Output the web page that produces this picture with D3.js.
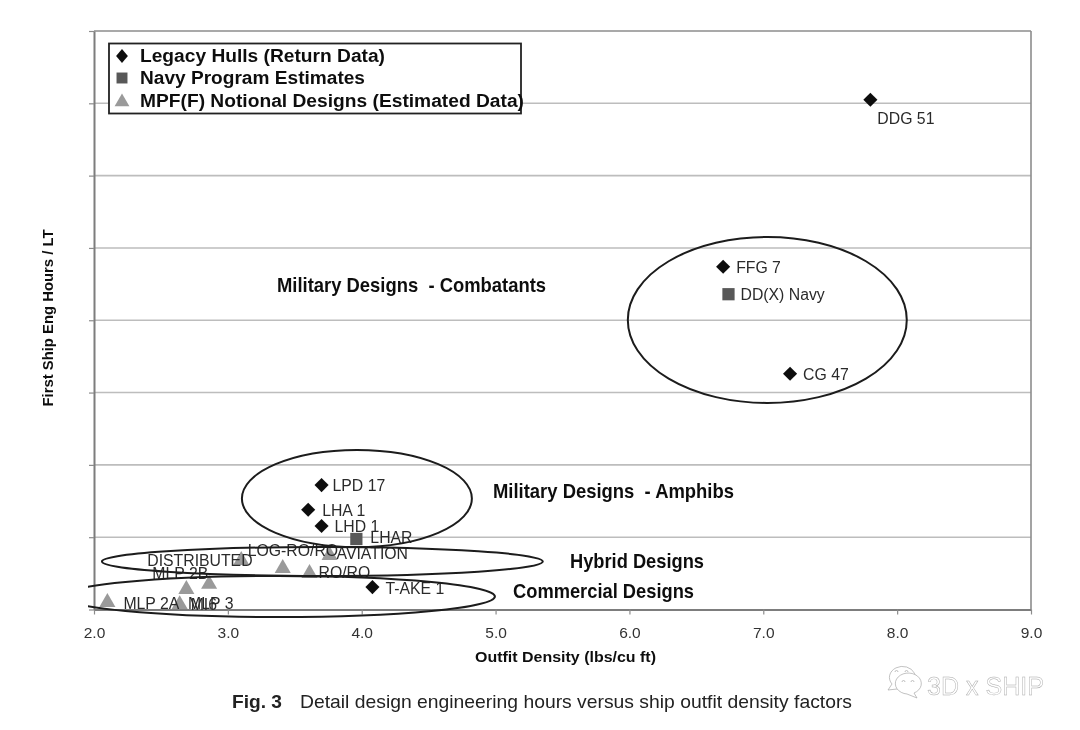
<!DOCTYPE html>
<meta charset="utf-8">
<style>
  html, body { margin: 0; background: #fff; }
  svg { display: block; }
  text { font-family: "Liberation Sans", Arial, sans-serif; }
</style>
<svg width="1080" height="730"></svg>

<script src="https://d3js.org/d3.v7.min.js"></script>
<script>
// values (y axis has no numbers, so y is in grid intervals)
var legacyNames = ["DDG 51", "FFG 7", "CG 47", "LPD 17", "LHA 1", "LHD 1", "T-AKE 1"]
var legacyX = [7.8, 6.7, 7.2, 3.7, 3.6, 3.7, 4.08]
var legacyY = [7.05, 4.74, 3.26, 1.72, 1.38, 1.155, 0.31]

var navyNames = ["DD(X) Navy", "LHAR"]
var navyX = [6.74, 3.96]
var navyY = [4.36, 0.975]

var mpfNames = ["AVIATION", "LOG-RO/RO", "DISTRIBUTED", "RO/RO", "MLP 2B", "MLP 3", "MLP 2A", "MI6"]
var mpfX = [3.76, 3.41, 3.1, 3.61, 2.69, 2.86, 2.1, 2.64]
var mpfY = [0.75, 0.57, 0.68, 0.5, 0.28, 0.35, 0.1, 0.07]

var groupNames = ["Military Designs  - Combatants", "Military Designs  - Amphibs", "Hybrid Designs", "Commercial Designs"]
var ellipseX = [7.03, 3.964, 3.706, 3.378]
var ellipseY = [4.004, 1.535, 0.664, 0.18]
var ellipseRx = [1.042, 0.859, 1.647, 1.617]
var ellipseRy = [1.148, 0.671, 0.2, 0.284]

var legendNames = ["Legacy Hulls (Return Data)", "Navy Program Estimates", "MPF(F) Notional Designs (Estimated Data)"]
var xTicks = [2, 3, 4, 5, 6, 7, 8, 9]
var yTicks = [0, 1, 2, 3, 4, 5, 6, 7, 8]

// layout
var left = 94, right = 1031, top_ = 31, bottom = 609.5

var x = d3.scaleLinear().domain([2, 9]).range([left, right])
var y = d3.scaleLinear().domain([0, 8]).range([bottom, top_])

var svg = d3.select('svg')

var defs = svg.append('defs')
defs.append('filter').attr('id', 'soft')
  .attr('filterUnits', 'userSpaceOnUse')
  .attr('x', 0).attr('y', 0)
  .attr('width', 1080).attr('height', 730)
  .append('feGaussianBlur').attr('stdDeviation', 0.5)
defs.append('clipPath').attr('id', 'ellipseClip')
  .append('rect').attr('x', left - 6).attr('y', 0).attr('width', 1080).attr('height', 730)

var root = svg.append('g').attr('filter', 'url(#soft)')

root.append('rect').attr('width', 1080).attr('height', 730).attr('fill', '#fff')

// grid
root.append('g').selectAll('line')
  .data(yTicks.slice(1))
  .enter().append('line')
    .attr('x1', left).attr('x2', right)
    .attr('y1', function (d) { return y(d) }).attr('y2', function (d) { return y(d) })
    .attr('stroke', function (d) { return d === 8 ? '#8c8c8c' : '#bdbdbd' })
    .attr('stroke-width', 1.6)

// right edge of the frame
root.append('line')
  .attr('x1', right).attr('x2', right).attr('y1', top_).attr('y2', bottom)
  .attr('stroke', '#8c8c8c').attr('stroke-width', 1.6)

var xAxis = root.append('g')
  .attr('transform', 'translate(0,' + bottom + ')')
  .call(d3.axisBottom(x).tickValues(xTicks).tickFormat(d3.format('.1f')).tickSize(5).tickPadding(12).tickSizeOuter(0))
xAxis.selectAll('text').attr('font-size', 15.5).attr('font-family', '"Liberation Sans"').attr('fill', '#333')
xAxis.selectAll('line').attr('stroke', '#8c8c8c').attr('stroke-width', 1.2)
xAxis.select('.domain').attr('stroke', '#7d7d7d').attr('stroke-width', 2)

var yAxis = root.append('g')
  .attr('transform', 'translate(' + left + ',0)')
  .call(d3.axisLeft(y).tickValues(yTicks).tickFormat('').tickSize(5).tickSizeOuter(0))
yAxis.selectAll('line').attr('stroke', '#8c8c8c').attr('stroke-width', 1.2)
yAxis.select('.domain').attr('stroke', '#7d7d7d').attr('stroke-width', 2)

// the three point series
function series(names, xs, ys) {
  return names.map(function (n, i) { return { name: n, x: xs[i], y: ys[i] } })
}
var legacy = series(legacyNames, legacyX, legacyY)
var navy = series(navyNames, navyX, navyY)
var mpf = series(mpfNames, mpfX, mpfY)

var diamond = d3.symbol().type(d3.symbolSquare).size(100)
var square = d3.symbol().type(d3.symbolSquare).size(150)
var triangle = d3.symbol().type(d3.symbolTriangle).size(112)

root.append('g').selectAll('path').data(mpf)
  .enter().append('path')
    .attr('d', triangle)
    .attr('fill', '#9a9a9a')
    .attr('transform', function (d) { return 'translate(' + x(d.x) + ',' + y(d.y) + ')' })

root.append('g').selectAll('path').data(navy)
  .enter().append('path')
    .attr('d', square)
    .attr('fill', '#595959')
    .attr('transform', function (d) { return 'translate(' + x(d.x) + ',' + y(d.y) + ')' })

root.append('g').selectAll('path').data(legacy)
  .enter().append('path')
    .attr('d', diamond)
    .attr('fill', '#111')
    .attr('transform', function (d) { return 'translate(' + x(d.x) + ',' + y(d.y) + ') rotate(45)' })

// where each label sits relative to its marker
var labelOffset = {
  "DDG 51": [7, 24], "FFG 7": [13, 6], "CG 47": [13, 6],
  "LPD 17": [11, 6], "LHA 1": [14, 6], "LHD 1": [13, 6], "T-AKE 1": [13, 7],
  "DD(X) Navy": [12, 6], "LHAR": [14, 4],
  "AVIATION": [7, 4], "LOG-RO/RO": [-35, -12], "DISTRIBUTED": [-94, 6], "RO/RO": [9, 5],
  "MLP 2B": [-34, -10], "MLP 3": [-21, 25], "MLP 2A": [16, 7], "MI6": [11, 6]
}

root.append('g').selectAll('text').data(legacy.concat(navy, mpf))
  .enter().append('text')
    .text(function (d) { return d.name })
    .attr('x', function (d) { return x(d.x) + labelOffset[d.name][0] })
    .attr('y', function (d) { return y(d.y) + labelOffset[d.name][1] })
    .attr('font-size', 15.8)
    .attr('fill', '#2b2b2b')

// ellipses round the groups
root.append('g').attr('clip-path', 'url(#ellipseClip)')
  .selectAll('ellipse').data(groupNames)
  .enter().append('ellipse')
    .attr('cx', function (d, i) { return x(ellipseX[i]) })
    .attr('cy', function (d, i) { return y(ellipseY[i]) })
    .attr('rx', function (d, i) { return x(2 + ellipseRx[i]) - x(2) })
    .attr('ry', function (d, i) { return y(0) - y(ellipseRy[i]) })
    .attr('fill', 'none')
    .attr('stroke', '#1c1c1c')
    .attr('stroke-width', 2)

// group headings, squeezed to the narrow bold of the original
var headX = [277, 493, 570, 513]
var headY = [292, 498, 568, 598]
var headW = [269, 241, 134, 181]
root.append('g').selectAll('text').data(groupNames)
  .enter().append('text')
    .text(function (d) { return d })
    .attr('x', function (d, i) { return headX[i] })
    .attr('y', function (d, i) { return headY[i] })
    .attr('textLength', function (d, i) { return headW[i] })
    .attr('lengthAdjust', 'spacingAndGlyphs')
    .attr('font-size', 21)
    .attr('font-weight', 'bold')
    .attr('fill', '#111')
    .style('white-space', 'pre')

// legend
var legend = root.append('g')
legend.append('rect')
  .attr('x', 109).attr('y', 43.5).attr('width', 412).attr('height', 70)
  .attr('fill', '#fff').attr('stroke', '#222').attr('stroke-width', 1.8)
var legendY = [56, 78, 101]
var legendW = [245, 225, 384]
legend.selectAll('text').data(legendNames)
  .enter().append('text')
    .text(function (d) { return d })
    .attr('x', 140)
    .attr('y', function (d, i) { return legendY[i] + 6 })
    .attr('textLength', function (d, i) { return legendW[i] })
    .attr('lengthAdjust', 'spacingAndGlyphs')
    .attr('font-size', 17.5)
    .attr('font-weight', 'bold')
    .attr('fill', '#111')
legend.append('path').attr('d', d3.symbol().type(d3.symbolSquare).size(70)).attr('fill', '#111')
  .attr('transform', 'translate(122,' + legendY[0] + ') scale(1,1.2) rotate(45)')
legend.append('path').attr('d', d3.symbol().type(d3.symbolSquare).size(120)).attr('fill', '#595959')
  .attr('transform', 'translate(122,' + legendY[1] + ')')
legend.append('path').attr('d', d3.symbol().type(d3.symbolTriangle).size(95)).attr('fill', '#9a9a9a')
  .attr('transform', 'translate(122,' + (legendY[2] + 1) + ')')

// axis titles
root.append('text')
  .text('First Ship Eng Hours / LT')
  .attr('transform', 'translate(53,318) rotate(-90)')
  .attr('text-anchor', 'middle')
  .attr('textLength', 177)
  .attr('lengthAdjust', 'spacingAndGlyphs')
  .attr('font-size', 15.5)
  .attr('font-weight', 'bold')
  .attr('fill', '#111')

root.append('text')
  .text('Outfit Density (lbs/cu ft)')
  .attr('x', 475).attr('y', 662)
  .attr('textLength', 181)
  .attr('lengthAdjust', 'spacingAndGlyphs')
  .attr('font-size', 15)
  .attr('font-weight', 'bold')
  .attr('fill', '#111')

// caption
root.append('text')
  .text('Fig. 3')
  .attr('x', 232).attr('y', 708)
  .attr('textLength', 50)
  .attr('lengthAdjust', 'spacingAndGlyphs')
  .attr('font-size', 19)
  .attr('font-weight', 'bold')
  .attr('fill', '#222')
root.append('text')
  .text('Detail design engineering hours versus ship outfit density factors')
  .attr('x', 300).attr('y', 708)
  .attr('textLength', 552)
  .attr('lengthAdjust', 'spacingAndGlyphs')
  .attr('font-size', 19)
  .attr('fill', '#222')

// watermark bottom right
var mark = root.append('g').attr('fill', '#fff').attr('stroke', '#a8a8a8').attr('stroke-width', 0.7)
mark.append('path').attr('d', 'M888 690 L892 684 A13 11 0 1 1 906 688 Z')
mark.append('path').attr('d', 'M917 698 L914 693 A13 10.5 0 1 0 907 694 Z')
mark.append('path').attr('d', 'M895 672a1 1 0 0 1 3 0M905 672a1 1 0 0 1 3 0M902 682a1 1 0 0 1 3 0M911 682a1 1 0 0 1 3 0').attr('fill', 'none')
mark.append('text')
  .text('3D x SHIP')
  .attr('x', 927).attr('y', 695)
  .attr('textLength', 117)
  .attr('lengthAdjust', 'spacingAndGlyphs')
  .attr('font-size', 26)
  .attr('stroke-width', 0.45)
</script>
